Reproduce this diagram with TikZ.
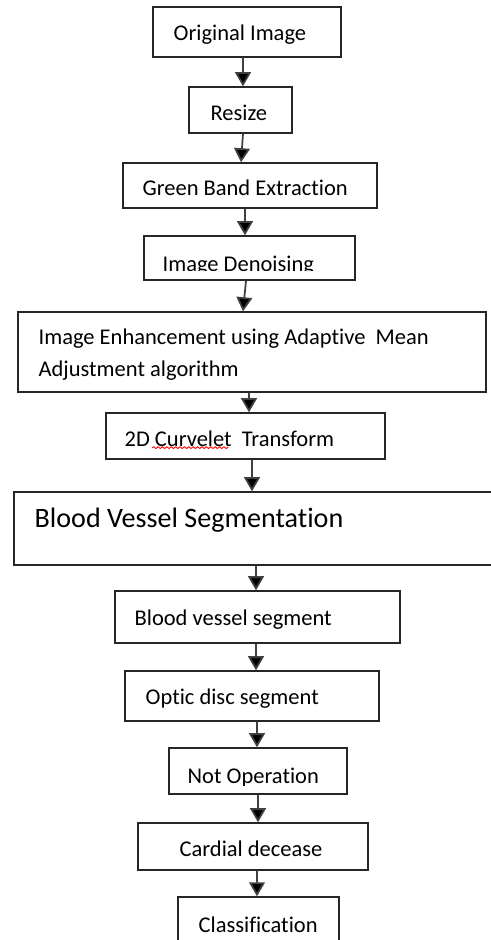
\documentclass[tikz,border=0pt]{standalone}
\usepackage{fontspec}
\setmainfont{Carlito}[Ligatures={TeX,NoCommon}]
\usetikzlibrary{positioning,arrows.meta,decorations.pathmorphing}
\tikzset{
  box/.style={draw=black!85,line width=0.8pt,inner sep=0pt},
  lbl/.style={inner sep=0pt,align=left,font=\fontsize{12.8}{18.7}\selectfont},
  arr/.style={draw=black!75,line width=1pt,-{Triangle[width=9pt,length=8pt,fill=black]}},
  squig/.style={red,line width=0.5pt,decorate,decoration={snake,amplitude=0.5pt,segment length=2.5pt}}
}
\begin{document}
\begin{tikzpicture}
 \path[use as bounding box,fill=white] (0,0) rectangle (9.82,-18.8);
 % boxes with their text
 \foreach \nm/\x/\y/\w/\h/\off/\txt in {
   orig/4.94/-0.64/3.76/1.00/0.42/Original Image,
   resize/4.81/-2.20/2.06/0.92/0.44/Resize,
   green/5.00/-3.71/5.08/0.90/0.40/Green Band Extraction,
   enhance/5.04/-7.04/9.36/1.60/0.42/{Image Enhancement using Adaptive\ \ Mean\\Adjustment algorithm},
   curvelet/4.91/-8.72/5.58/0.92/0.38/2D Curvelet\ \ Transform,
   bvseg/5.15/-12.34/5.70/1.04/0.40/Blood vessel segment,
   optic/5.04/-13.92/5.08/1.00/0.42/Optic disc segment,
   cardial/5.06/-16.93/4.60/0.94/0.84/Cardial decease,
   classif/5.17/-18.44/3.22/1.00/0.42/Classification}
 {
   \node[box,minimum width=\w cm,minimum height=\h cm] (\nm) at (\x,\y) {};
   \node[lbl,yshift=-1.5pt,right=\off cm of \nm.west] (\nm-t) {\txt};
 }
 \node[box,minimum width=9.58cm,minimum height=1.46cm] (bvs) at (5.07,-10.57) {};
 \node[lbl,font=\fontsize{16}{19}\selectfont,yshift=0.17cm,right=0.42cm of bvs.west] (bvs-t) {Blood Vessel Segmentation};
 \draw[squig] ([shift={(0.56,-0.18)}]curvelet-t.west) -- ([shift={(2.08,-0.18)}]curvelet-t.west);
 % text cut off at the bottom
 \node[box,minimum width=4.22cm,minimum height=0.88cm] (denoise) at (4.99,-5.16) {};
 \begin{scope}
   \clip (denoise.north west) rectangle ([yshift=0.21cm]denoise.south east);
   \node[lbl,anchor=base west] (denoise-t) at ([xshift=0.38cm,yshift=-0.26cm]denoise.west) {Image Denoising};
 \end{scope}
 \node[box,minimum width=3.56cm,minimum height=0.92cm] (notop) at (5.16,-15.42) {};
 \begin{scope}
   \clip (notop.north west) rectangle ([yshift=0.18cm]notop.south east);
   \node[lbl,anchor=base west] (notop-t) at ([xshift=0.38cm,yshift=-0.24cm]notop.west) {Not Operation};
 \end{scope}
 % arrows
 \foreach \a/\b/\s/\t in {orig/resize/-0.08/0.05, resize/green/0.05/-0.18,
   green/denoise/-0.10/-0.09, denoise/enhance/-0.07/-0.18, enhance/curvelet/-0.06/0.07,
   curvelet/bvs/0.13/-0.03, bvs/bvseg/0.05/-0.03, bvseg/optic/-0.03/0.08,
   optic/notop/0.10/-0.02, notop/cardial/0/0.10, cardial/classif/0.08/-0.03}
   \draw[arr] ([xshift=\s cm]\a.south) -- ([xshift=\t cm]\b.north);
\end{tikzpicture}
\end{document}
